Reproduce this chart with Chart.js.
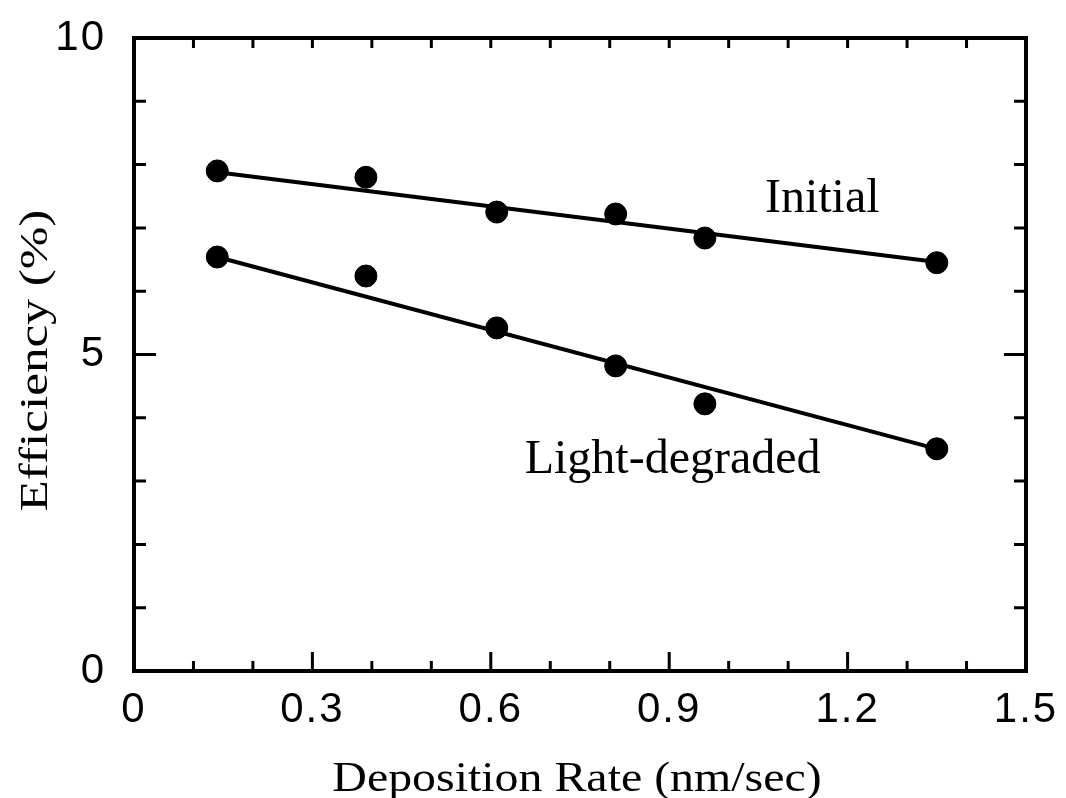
<!DOCTYPE html>
<html>
<head>
<meta charset="utf-8">
<script src="https://cdn.jsdelivr.net/npm/chart.js@4.4.1/dist/chart.umd.min.js"></script>
<style>
  html, body { margin: 0; padding: 0; background: #fff; }
  canvas { display: block; }
</style>
</head>
<body>
<canvas id="chart" width="1066" height="798"></canvas>
<script>
// measured points
const rateInitial = [0.14, 0.39, 0.61, 0.81, 0.96, 1.35];
const effInitial = [7.90, 7.80, 7.25, 7.22, 6.84, 6.45];
const rateDegraded = [0.14, 0.39, 0.61, 0.81, 0.96, 1.35];
const effDegraded = [6.54, 6.24, 5.42, 4.82, 4.22, 3.51];

// fitted lines (end points)
const fitRate = [0.14, 1.35];
const fitInitial = [7.88, 6.46];
const fitDegraded = [6.54, 3.51];

// axis ticks
const xTickLabels = [0, 0.3, 0.6, 0.9, 1.2, 1.5];
const xMinorTicks = [0.1, 0.2, 0.3, 0.4, 0.5, 0.6, 0.7, 0.8, 0.9, 1.0, 1.1, 1.2, 1.3, 1.4];
const xMajorTicks = [0.3, 0.6, 0.9, 1.2];
const yTickLabels = [0, 5, 10];
const yMinorTicks = [1, 2, 3, 4, 5, 6, 7, 8, 9];
const yMajorTicks = [5];

// curve labels
const noteText = ['Initial', 'Light-degraded'];
const noteX = [1.061, 0.657];
const noteY = [7.25, 3.13];

const xTitle = 'Deposition Rate (nm/sec)';
const yTitle = 'Efficiency (%)';

const SERIF = '"Liberation Serif", "Times New Roman", serif';
const SANS = '"Liberation Sans", Arial, sans-serif';

const pts = (xs, ys) => xs.map((x, i) => ({ x, y: ys[i] }));

/* ---------- frame, inward ticks, titles, notes ---------- */
const framePlugin = {
    id: 'frame',
    afterDatasetsDraw(chart) {
        const { ctx, chartArea: a, scales: { x, y } } = chart;
        ctx.save();
        ctx.strokeStyle = '#000';
        ctx.lineWidth = 3;
        ctx.beginPath();
        xMinorTicks.forEach(v => {
            const px = x.getPixelForValue(v);
            const len = xMajorTicks.some(m => Math.abs(m - v) < 1e-6) ? 19 : 10;
            ctx.moveTo(px, a.bottom); ctx.lineTo(px, a.bottom - len);
            ctx.moveTo(px, a.top); ctx.lineTo(px, a.top + 10);
        });
        yMinorTicks.forEach(v => {
            const py = y.getPixelForValue(v);
            const len = yMajorTicks.includes(v) ? 22 : 12;
            ctx.moveTo(a.left, py); ctx.lineTo(a.left + len, py);
            ctx.moveTo(a.right, py); ctx.lineTo(a.right - len, py);
        });
        ctx.stroke();
        ctx.lineWidth = 4;
        ctx.strokeRect(a.left, a.top, a.right - a.left, a.bottom - a.top);

        ctx.fillStyle = '#000';
        ctx.textBaseline = 'alphabetic';

        // curve labels
        ctx.font = '48px ' + SERIF;
        ctx.textAlign = 'left';
        noteText.forEach((t, i) => {
            ctx.fillText(t, x.getPixelForValue(noteX[i]), y.getPixelForValue(noteY[i]));
        });

        // axis titles (the scan has them stretched sideways)
        ctx.textAlign = 'center';
        ctx.font = '42px ' + SERIF;
        ctx.save();
        ctx.translate((a.left + a.right) / 2 - 3, 791);
        ctx.scale(1.14, 1);
        ctx.fillText(xTitle, 0, 0);
        ctx.restore();

        ctx.font = '40px ' + SERIF;
        ctx.save();
        ctx.translate(47, (a.top + a.bottom) / 2 + 6);
        ctx.rotate(-Math.PI / 2);
        ctx.scale(1.28, 1);
        ctx.fillText(yTitle, 0, 0);
        ctx.restore();

        ctx.restore();

        // wide spacing for the tick numbers (drawn after this, ticks.z = 1)
        ctx.letterSpacing = '2px';
    },
    afterDraw(chart) {
        chart.ctx.letterSpacing = '0px';
    }
};

new Chart(document.getElementById('chart').getContext('2d'), {
    type: 'scatter',
    data: {
        datasets: [
            {
                label: 'Initial fit',
                data: pts(fitRate, fitInitial),
                showLine: true,
                borderColor: '#000',
                borderWidth: 4,
                pointRadius: 0
            },
            {
                label: 'Light-degraded fit',
                data: pts(fitRate, fitDegraded),
                showLine: true,
                borderColor: '#000',
                borderWidth: 4,
                pointRadius: 0
            },
            {
                label: 'Initial',
                data: pts(rateInitial, effInitial),
                backgroundColor: '#000',
                borderColor: '#000',
                pointRadius: 11
            },
            {
                label: 'Light-degraded',
                data: pts(rateDegraded, effDegraded),
                backgroundColor: '#000',
                borderColor: '#000',
                pointRadius: 11
            }
        ]
    },
    options: {
        responsive: false,
        animation: false,
        layout: { padding: { left: 0, top: 38, right: 40, bottom: 0 } },
        plugins: {
            legend: { display: false },
            tooltip: { enabled: false }
        },
        scales: {
            x: {
                type: 'linear',
                min: 0,
                max: 1.5,
                afterBuildTicks(scale) {
                    scale.ticks = xTickLabels.map(v => ({ value: v }));
                },
                afterFit(scale) {
                    scale.height = 127;
                    scale.paddingLeft = 0;
                    scale.paddingRight = 0;
                },
                grid: { display: false },
                border: { display: false },
                ticks: {
                    z: 1,
                    color: '#000',
                    padding: 6,
                    maxRotation: 0,
                    font: { family: SANS, size: 42 },
                    callback: v => String(v)
                },
                title: { display: false }
            },
            y: {
                type: 'linear',
                min: 0,
                max: 10,
                afterBuildTicks(scale) {
                    scale.ticks = yTickLabels.map(v => ({ value: v }));
                },
                afterFit(scale) {
                    scale.width = 134;
                    scale.paddingTop = 0;
                    scale.paddingBottom = 0;
                },
                grid: { display: false },
                border: { display: false },
                ticks: {
                    z: 1,
                    color: '#000',
                    padding: 20,
                    font: { family: SANS, size: 42 },
                    callback: v => String(v)
                },
                title: { display: false }
            }
        }
    },
    plugins: [framePlugin]
});
</script>
</body>
</html>
